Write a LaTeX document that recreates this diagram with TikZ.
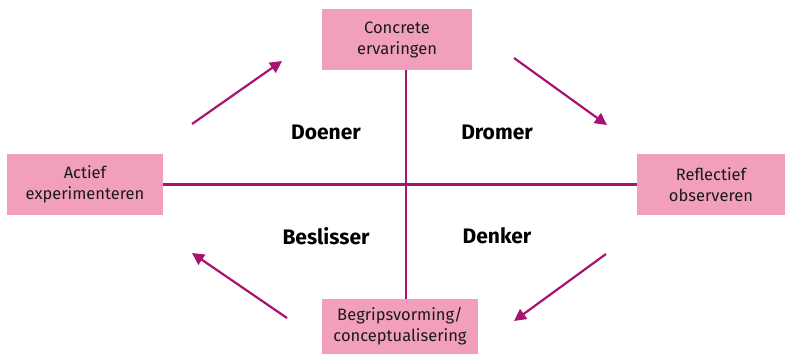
\documentclass[tikz,border=0pt]{standalone}
\usepackage{fontspec}
\setmainfont{Fira Sans}
\usepackage{tikz}
\usetikzlibrary{positioning, arrows.meta, calc}
\definecolor{boxpink}{HTML}{F29FBD}
\definecolor{linemag}{HTML}{A8136F}
\definecolor{txtdark}{HTML}{1A1A1A}

\begin{document}
\begin{tikzpicture}[
  x=1pt, y=-1pt,
  >={Triangle[length=12pt, width=12pt]},
  stage/.style={fill=boxpink, text=txtdark, align=center, inner sep=0pt,
    font=\fontsize{16.5}{21}\selectfont},
  style label/.style={font=\fontsize{21}{24}\selectfont\bfseries, text=black},
  axis/.style={linemag, line width=2.2pt},
  cycle/.style={->, linemag, line width=2.2pt}
]
\useasboundingbox (0,0) rectangle (787,356);
% Stages of the cycle
\node[stage, minimum width=150pt, minimum height=61pt] (concrete) at (397,39.5) {Concrete\\ervaringen};
\node[stage, minimum width=156pt, minimum height=61pt] (actief) at (85,184.5) {Actief\\experimenteren};
\node[stage, minimum width=148pt, minimum height=61pt] (reflect) at (711,184.5) {Reflectief\\observeren};
\node[stage, minimum width=156pt, minimum height=55pt] (begrip) at (400,326.5) {Begripsvorming/\\conceptualisering};

% Axes
\coordinate (mid) at (406,184);
\draw[axis] (concrete.south -| mid) -- (begrip.north -| mid);
\draw[axis] (actief.east) -- (reflect.west);

% Learning styles
\node[style label] (doener) at (326,132) {Doener};
\node[style label] (dromer) at (497,132) {Dromer};
\node[style label] (beslisser) at (326,236) {Beslisser};
\node[style label] (denker) at (497,236) {Denker};

% Cycle arrows
\coordinate (a1) at (192,124); \coordinate (b1) at (282,61);
\coordinate (a2) at (514,58);  \coordinate (b2) at (607,125);
\coordinate (a3) at (606,254); \coordinate (b3) at (514,321);
\coordinate (a4) at (287,318); \coordinate (b4) at (192,253);
\draw[cycle] (a1) -- (b1);
\draw[cycle] (a2) -- (b2);
\draw[cycle] (a3) -- (b3);
\draw[cycle] (a4) -- (b4);
\end{tikzpicture}
\end{document}
